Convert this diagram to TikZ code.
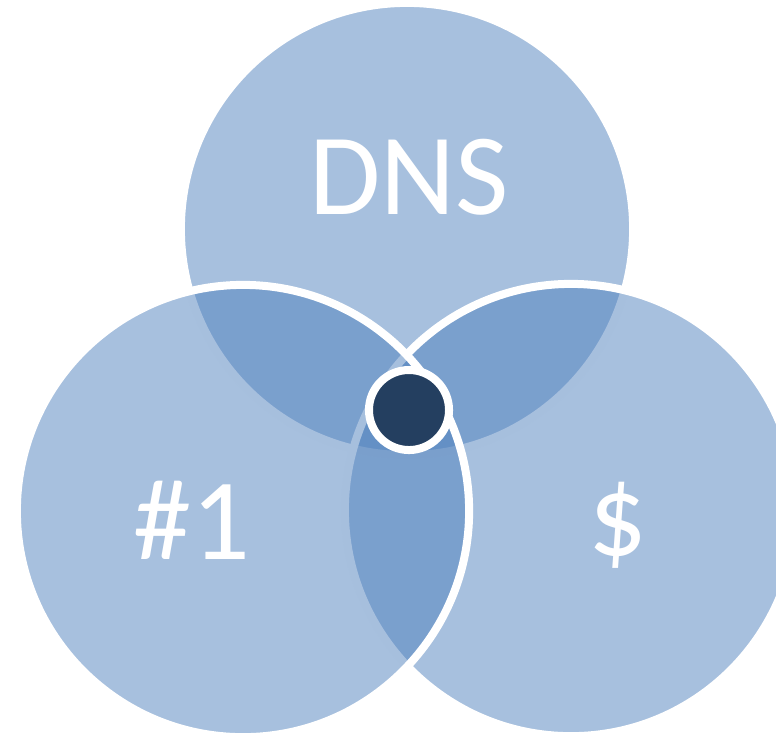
\documentclass[tikz,border=0pt]{standalone}
\usepackage{fontspec}
\setmainfont{Carlito}
\definecolor{vennblue}{HTML}{4F81BD}
\definecolor{hubblue}{HTML}{243F60}

\begin{document}
\begin{tikzpicture}[x=0.01cm,y=-0.01cm,
    venn/.style={circle,inner sep=0pt,minimum size=4.52cm,draw=white,line width=0.08cm,fill=vennblue,fill opacity=0.5},
    hub/.style={circle,inner sep=0pt,minimum size=0.80cm,draw=white,line width=0.08cm,fill=hubblue},
    lbl/.style={anchor=base,text=white,inner sep=0pt,font=\fontsize{33}{33}\selectfont}]
      \useasboundingbox (0,0) rectangle (776,732);
      \clip (0,0) rectangle (776,732);
      \node[venn] (dns) at (407,229) {};
      \node[venn] (cash) at (571,510) {};
      \node[venn] (one) at (243,511) {};
      \node[hub] (core) at (409,410) {};
      \node[lbl] (dnstext) at (409,214) {DNS};
      \node[lbl] (onetext) at (192,559) {\#1};
      \node[lbl] (cashtext) at (618,555) {\$};
    \end{tikzpicture}
\end{document}
